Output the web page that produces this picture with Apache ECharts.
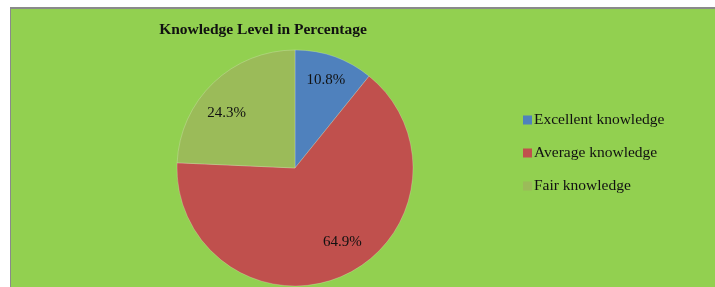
<!DOCTYPE html>
<html>
<head>
<meta charset="utf-8">
<style>
  html, body { margin: 0; padding: 0; background: #fff; }
  #frame {
    position: absolute; left: 10px; top: 7px; width: 705px; height: 280px;
    background: #92d050; border-left: 1px solid #8a8a8a; border-top: 2px solid #8a8a8a;
  }
  #chart { position: absolute; left: 0; top: 0; width: 715px; height: 287px; }
</style>
<script src="https://cdn.jsdelivr.net/npm/echarts@6/dist/echarts.min.js"></script>
</head>
<body>
<div id="frame"></div>
<div id="chart"></div>
<script>
const categories = ['Excellent knowledge', 'Average knowledge', 'Fair knowledge']
const values = [10.8, 64.9, 24.3]
const colors = ['#4f81bd', '#c0504d', '#9bbb59']
// small nudges so the labels sit where the original put them
const labelOffsets = [[0, 0], [9, -11], [-4, 12]]

const serif = '"Liberation Serif", "DejaVu Serif", serif'
const pieData = categories.map((name, i) => ({ name, value: values[i], itemStyle: { color: colors[i] } }))

const chart = echarts.init(document.getElementById('chart'))
chart.setOption({
  backgroundColor: 'transparent',
  animation: false,
  title: {
    text: 'Knowledge Level in Percentage',
    left: 258,
    top: 17,
    textAlign: 'center',
    textStyle: { fontFamily: serif, fontSize: 15.5, fontWeight: 'bold', color: '#111' }
  },
  legend: {
    orient: 'vertical',
    left: 518,
    top: 107,
    itemWidth: 9,
    itemHeight: 9,
    itemGap: 17,
    icon: 'rect',
    itemStyle: { borderWidth: 0 },
    data: categories,
    textStyle: { fontFamily: serif, fontSize: 15.5, color: '#111', padding: [0, 0, 0, -3] }
  },
  series: [{
    // the pie itself
    type: 'pie',
    center: [295, 168],
    radius: [0, 118],
    startAngle: 90,
    clockwise: true,
    label: { show: false },
    labelLine: { show: false },
    itemStyle: { borderColor: 'rgba(255,255,255,0.35)', borderWidth: 0.6 },
    data: pieData
  }, {
    // transparent ring only used to place the percentage labels further out
    type: 'pie',
    center: [295, 168],
    radius: [62, 118],
    startAngle: 90,
    clockwise: true,
    silent: true,
    legendHoverLink: false,
    itemStyle: { color: 'rgba(0,0,0,0)' },
    label: {
      show: true,
      position: 'inside',
      formatter: p => p.value.toFixed(1) + '%',
      fontFamily: serif,
      fontSize: 15,
      color: '#111'
    },
    labelLine: { show: false },
    data: categories.map((name, i) => ({ name, value: values[i], label: { offset: labelOffsets[i] } }))
  }]
})
</script>
</body>
</html>
